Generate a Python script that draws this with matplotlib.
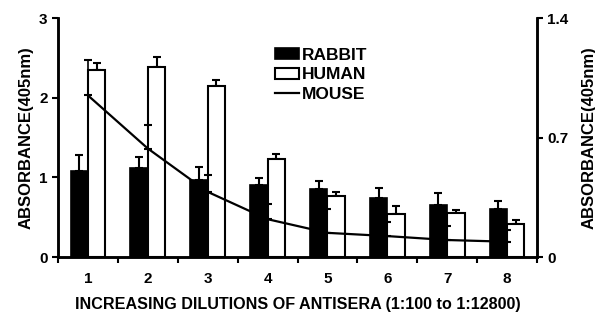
import matplotlib
matplotlib.use('agg')
import matplotlib.pyplot as plt
import numpy as np

plt.rcParams['font.family'] = ['Liberation Sans', 'DejaVu Sans']
plt.rcParams['font.weight'] = 'bold'

dilutions = ['1', '2', '3', '4', '5', '6', '7', '8']
rabbit = [1.08, 1.12, 0.97, 0.90, 0.85, 0.74, 0.65, 0.60]
rabbit_err = [0.20, 0.13, 0.16, 0.09, 0.10, 0.13, 0.15, 0.10]
human = [2.35, 2.39, 2.15, 1.23, 0.77, 0.54, 0.55, 0.42]
human_err = [0.09, 0.12, 0.07, 0.06, 0.05, 0.10, 0.04, 0.04]
mouse = [0.947, 0.636, 0.382, 0.222, 0.142, 0.123, 0.100, 0.090]
mouse_err = [0.21, 0.14, 0.10, 0.09, 0.14, 0.08, 0.08, 0.07]

x = np.arange(len(dilutions)) + 0.5
w = 0.29

fig = plt.figure(figsize=(5.95, 3.17), dpi=100)
ax = fig.add_axes([0.0975, 0.189, 0.805, 0.754])
ax2 = ax.twinx()

ax.bar(x - w / 2, rabbit, w, color='black', edgecolor='black', linewidth=1.2,
       label='RABBIT', zorder=2)
ax.bar(x + w / 2, human, w, color='white', edgecolor='black', linewidth=1.5,
       label='HUMAN', zorder=2)
ax.errorbar(x - w / 2, rabbit, yerr=[np.zeros(8), rabbit_err], fmt='none',
            ecolor='black', elinewidth=1.5, capsize=3, capthick=1.5, zorder=1)
ax.errorbar(x + w / 2, human, yerr=[np.zeros(8), human_err], fmt='none',
            ecolor='black', elinewidth=1.5, capsize=3, capthick=1.5, zorder=1)

ax2.plot(x, mouse, color='black', linewidth=1.6, label='MOUSE', zorder=3)
ax2.errorbar(x, mouse, yerr=[np.zeros(8), mouse_err], fmt='none',
             ecolor='black', elinewidth=1.2, capsize=3, capthick=1.5, zorder=3)

ax.set_xlim(0, 8)
ax.set_ylim(0, 3)
ax2.set_ylim(0, 1.4)
ax.set_yticks([0, 1, 2, 3])
ax2.set_yticks([0, 0.7, 1.4])
ax2.set_yticklabels(['0', '0.7', '1.4'])
ax.set_xticks(np.arange(0, 9), minor=False)
ax.set_xticklabels([])
ax.set_xticks(x, minor=True)
ax.set_xticklabels(dilutions, minor=True)
ax.tick_params(axis='x', which='minor', length=0, pad=11, labelsize=11)
ax.tick_params(axis='x', which='major', length=4, width=1.5, direction='out')
ax.tick_params(axis='y', length=4, width=1.5, labelsize=11)
ax2.tick_params(axis='y', length=4, width=1.5, labelsize=11)

for a in (ax, ax2):
    a.spines['top'].set_visible(False)
    for s in ('left', 'right', 'bottom'):
        a.spines[s].set_linewidth(1.8)

ax.set_ylabel('ABSORBANCE(405nm)', fontsize=12, fontweight='bold', labelpad=4)
ax2.set_ylabel('ABSORBANCE(405nm)', fontsize=12, fontweight='bold', labelpad=9)
ax.set_xlabel('INCREASING DILUTIONS OF ANTISERA (1:100 to 1:12800)',
              fontsize=11.6, fontweight='bold', labelpad=8)

h1, l1 = ax.get_legend_handles_labels()
h2, l2 = ax2.get_legend_handles_labels()
ax.legend(h1 + h2, l1 + l2, loc='upper left', bbox_to_anchor=(0.42, 0.94),
          frameon=False, fontsize=12.5, handlelength=1.4, handleheight=0.6,
          handletextpad=0.15, labelspacing=0.25)

fig.savefig('out.png', dpi=100)
